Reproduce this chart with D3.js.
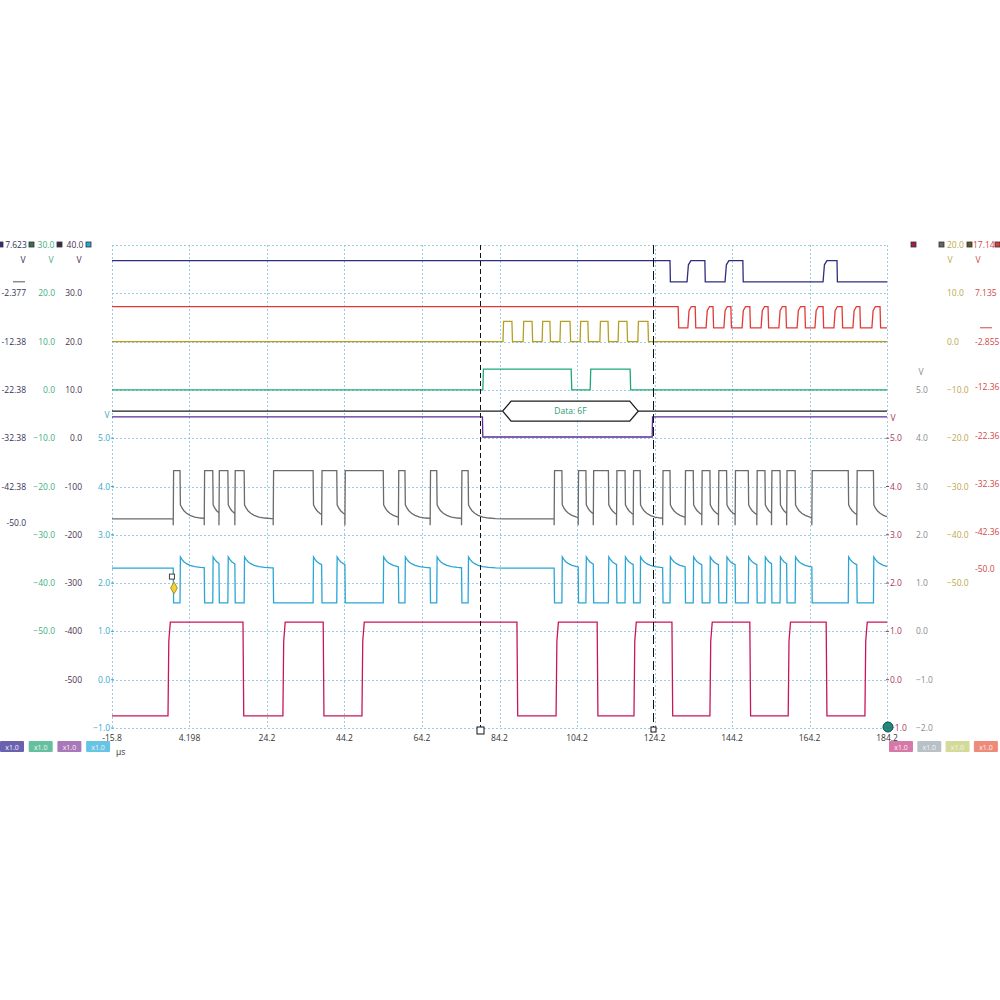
<!DOCTYPE html>
<html>
<head>
<meta charset="UTF-8">
<style>
body {
	margin: 0 ;
	background-color: #ffffff ;
	font-family: "Open Sans", Arial, sans-serif ;
}
.lbl { font-size: 8.5px ; }
</style>
<title>Scope</title>
<script src="https://cdn.jsdelivr.net/npm/d3@7"></script>
</head>
<body>
<svg id="scope" width="1000" height="1000"></svg>
<script type="text/javascript" charset="utf-8">

// ---- time axis (µs)
const timeTicks = [-15.8, 4.198, 24.2, 44.2, 64.2, 84.2, 104.2, 124.2, 144.2, 164.2, 184.2];
const timeLabels = ["-15.8", "4.198", "24.2", "44.2", "64.2", "84.2", "104.2", "124.2", "144.2", "164.2", "184.2"];
const divisions = [0, 1, 2, 3, 4, 5, 6, 7, 8, 9, 10];

// ---- channel scales: value at top of screen
const navyTop = 7.623, redTop = 17.14, yellowTop = 20.0, greenTop = 30.0, purpleTop = 40.0;   // 10 V/div
const grayTop = 8.0, cyanTop = 9.0, magentaTop = 9.0;                                          // 1 V/div

// ---- digital traces (edge times in µs, each edge toggles the level)
const navyEdges = [128.2, 132.6, 137.2, 142.4, 147.0, 167.7, 171.3];          // starts high
const navyLevels = [0.0, 4.4];
const redEdges = [130.3, 132.8, 134.7, 137.5, 139.3, 142.1, 143.9, 146.8, 148.8, 151.7,
	153.5, 156.3, 158.1, 161.0, 163.0, 165.6, 167.7, 170.5, 172.6, 175.4, 177.2, 180.3, 182.4]; // starts high
const redLevels = [0.0, 4.4];
const yellowEdges = [85.1, 87.4, 90.3, 92.6, 95.2, 97.2, 99.8, 102.4, 105.0, 107.0,
	110.1, 112.2, 114.8, 117.1, 119.9, 122.5];                                  // starts low
const yellowLevels = [0.0, 4.2];
const greenEdges = [79.9, 102.7, 107.6, 117.9];                               // starts low
const greenLevels = [0.0, 4.3];
const purpleEdges = [79.8, 123.6];                                            // starts high
const purpleLevels = [0.25, 4.4];
const magentaEdges = [-1.35, 18.0, 28.3, 38.7, 48.7, 88.7, 98.8, 109.4, 118.9, 128.7,
	138.5, 148.8, 158.7, 168.5, 178.5];                                         // starts low
const magentaLevels = [-0.75, 1.19];

// ---- CAN bus dominant bits (start, end) in µs
const canDominant = [[0.0, 1.75], [8.0, 10.2], [11.8, 14.1], [15.9, 18.3], [25.8, 36.1], [38.3, 42.2],
	[44.3, 54.2], [58.1, 59.8], [66.3, 68.0], [74.4, 76.1], [98.3, 100.3], [104.5, 106.5],
	[108.4, 112.3], [114.4, 116.6], [118.7, 120.5], [126.3, 128.2], [132.1, 134.2], [136.4, 138.5],
	[140.7, 142.8], [145.0, 148.4], [150.6, 152.7], [154.4, 156.6], [158.3, 160.5], [164.8, 174.2],
	[176.4, 180.7]];
const grayLevels = { rec: 2.33, dom: 3.33, over: 2.62, spike: 2.2 };
const cyanLevels = { rec: 2.31, dom: 1.59, over: 2.54, spike: null };
// relaxation after a dominant bit (µs, fraction of overshoot left)
const decayTimes = [0, 0.4, 0.9, 1.6, 2.5, 3.7, 5.2, 7.0, 9.0];
const decayFrac = [1, 0.78, 0.58, 0.4, 0.25, 0.13, 0.06, 0.02, 0];

// ---- decoded bus and cursors
const busFrames = [{ start: 85.0, end: 120.0, text: "Data: 6F" }];
const cursorTimes = [79.2, 123.8];

// ---- axis label columns
const col1Ticks = [-2.377, -12.38, -22.38, -32.38, -42.38, -50.0];
const col1Text = ["-2.377", "-12.38", "-22.38", "-32.38", "-42.38", "-50.0"];
const col2Ticks = [20, 10, 0, -10, -20, -30, -40, -50];
const col3Ticks = [30, 20, 10, 0, -10, -20, -30, -40, -50];
const col3Text = ["30.0", "20.0", "10.0", "0.0", "-100", "-200", "-300", "-400", "-500"];
const col4Ticks = [5, 4, 3, 2, 1, 0, -1];
const r1Ticks = [5, 4, 3, 2, 1, 0, -1];
const r2Ticks = [5, 4, 3, 2, 1, 0, -1, -2];
const r3Ticks = [10, 0, -10, -20, -30, -40, -50];
const r4Ticks = [7.135, -2.855, -12.36, -22.36, -32.36, -42.36, -50.0];
const r4Text = ["7.135", "-2.855", "-12.36", "-22.36", "-32.36", "-42.36", "-50.0"];
const leftBadges = ["#6a62b0", "#66c0a0", "#a878b8", "#66c4e4"];
const rightBadges = ["#d878a8", "#b8c0c8", "#d4da98", "#f08a78"];

// ---------------------------------------------------------------
const plotL = 112, plotR = 887, plotT = 245, plotB = 728;
const svg = d3.select("#scope");

const x = d3.scaleLinear().domain([timeTicks[0], timeTicks[timeTicks.length - 1]]).range([plotL, plotR]);
const div = d3.scaleLinear().domain([0, 10]).range([plotB, plotT]);
function onePerDiv( topVal ) {
	return d3.scaleLinear().domain([topVal - 10, topVal]).range([plotB, plotT]);
}
function tenPerDiv( topVal ) {
	return d3.scaleLinear().domain([topVal - 100, topVal]).range([plotB, plotT]);
}
const yGray = onePerDiv( grayTop ), yCyan = onePerDiv( cyanTop ), yMag = onePerDiv( magentaTop );
const yNavy10 = tenPerDiv( navyTop ), yRed10 = tenPerDiv( redTop ), yYellow10 = tenPerDiv( yellowTop ),
	yGreen10 = tenPerDiv( greenTop ), yPurple10 = tenPerDiv( purpleTop );

// ---- grid
const grid = svg.append("g").attr("stroke", "#9ccbe3").attr("stroke-dasharray", "2,2").attr("stroke-width", 1);
grid.selectAll("line.h").data(divisions).enter().append("line")
	.attr("x1", plotL).attr("x2", plotR)
	.attr("y1", d => Math.round(div(d)) + 0.5).attr("y2", d => Math.round(div(d)) + 0.5);
grid.selectAll("line.v").data(timeTicks).enter().append("line")
	.attr("y1", plotT).attr("y2", plotB)
	.attr("x1", d => Math.round(x(d)) + 0.5).attr("x2", d => Math.round(x(d)) + 0.5);

// x axis labels
svg.append("g").selectAll("text").data(timeTicks).enter().append("text")
	.attr("class", "lbl").attr("fill", "#333")
	.attr("x", d => x(d)).attr("y", plotB + 13).attr("text-anchor", "middle")
	.text((d, i) => timeLabels[i]);
svg.append("text").attr("class", "lbl").attr("fill", "#333").attr("x", 116).attr("y", 755).text("µs");

// ---- traces
svg.append("clipPath").attr("id", "plot").append("rect")
	.attr("x", plotL).attr("y", plotT - 20).attr("width", plotR - plotL + 1).attr("height", plotB - plotT + 22);
const traces = svg.append("g").attr("clip-path", "url(#plot)").attr("fill", "none").attr("stroke-width", 1.3);

function digitalPoints( startHigh, edges, levels, rise, fall ) {
	const pts = [] ;
	let high = startHigh ;
	pts.push([ x.domain()[0], high ? levels[1] : levels[0] ]) ;
	edges.forEach( t => {
		const from = high ? levels[1] : levels[0] ;
		high = !high ;
		const to = high ? levels[1] : levels[0] ;
		const dt = high ? rise : fall ;
		pts.push([ t, from ]) ;
		if( high && rise > 0.3 ) pts.push([ t + dt * 0.35, from + (to - from) * 0.8 ]) ;
		pts.push([ t + dt, to ]) ;
	}) ;
	pts.push([ x.domain()[1], high ? levels[1] : levels[0] ]) ;
	return pts ;
}

const decay = d3.scaleLinear().domain(decayTimes).range(decayFrac).clamp(true);
function canPoints( lv ) {
	const pts = [[ x.domain()[0], lv.rec ]] ;
	let lastFall = null ;
	const relax = (from, until) => {
		decayTimes.forEach( dt => { if( from + dt < until ) pts.push([ from + dt, lv.rec + (lv.over - lv.rec) * decay(dt) ]) }) ;
		pts.push([ until, lv.rec + (lv.over - lv.rec) * decay(until - from) ]) ;
	} ;
	canDominant.forEach( ([a, b]) => {
		if( lastFall === null ) pts.push([ a, lv.rec ]) ;
		else relax( lastFall, a ) ;
		if( lv.spike !== null ) pts.push([ a, lv.spike ]) ;
		pts.push([ a + 0.1, lv.dom ], [ b, lv.dom ], [ b + 0.1, lv.over ]) ;
		lastFall = b + 0.1 ;
	}) ;
	relax( lastFall, x.domain()[1] ) ;
	return pts ;
}

function draw( pts, yScale, color ) {
	traces.append("path")
		.attr("d", d3.line().x(d => x(d[0])).y(d => yScale(d[1]))(pts))
		.attr("stroke", color) ;
}

draw( digitalPoints( true, navyEdges, navyLevels, 1.0, 0.1 ), yNavy10, "#2e2e7e" );
draw( digitalPoints( true, redEdges, redLevels, 0.9, 0.15 ), yRed10, "#e03a36" );
draw( digitalPoints( false, yellowEdges, yellowLevels, 0.15, 0.15 ), yYellow10, "#b4a024" );
draw( digitalPoints( false, greenEdges, greenLevels, 0.15, 0.15 ), yGreen10, "#1fa77a" );

// decoded bus row
const busY = div(6.56), busH = 10;
const bus = traces.append("g").attr("stroke", "#1c1c1c");
let busPos = x.domain()[0];
busFrames.forEach( f => {
	bus.append("line").attr("x1", x(busPos)).attr("x2", x(f.start)).attr("y1", busY).attr("y2", busY);
	const slant = 2.2;
	bus.append("path").attr("fill", "#ffffff").attr("d", d3.line()([
		[x(f.start), busY], [x(f.start + slant), busY - busH], [x(f.end - slant), busY - busH],
		[x(f.end), busY], [x(f.end - slant), busY + busH], [x(f.start + slant), busY + busH], [x(f.start), busY]
	]));
	svg.append("text").attr("class", "lbl").attr("fill", "#2c9c72").attr("text-anchor", "middle")
		.attr("x", x((f.start + f.end) / 2)).attr("y", busY + 3).text(f.text);
	busPos = f.end;
});
bus.append("line").attr("x1", x(busPos)).attr("x2", plotR).attr("y1", busY).attr("y2", busY);

draw( digitalPoints( true, purpleEdges, purpleLevels, 0.1, 0.1 ), yPurple10, "#5a2c98" );
draw( canPoints( grayLevels ), yGray, "#6b6b6b" );
draw( canPoints( cyanLevels ), yCyan, "#2aa6d6" );
draw( digitalPoints( false, magentaEdges, magentaLevels, 0.6, 0.2 ), yMag, "#c8155c" );

// ---- cursors
const cur = svg.append("g");
cursorTimes.forEach( (t, i) => {
	cur.append("line").attr("x1", Math.round(x(t)) + 0.5).attr("x2", Math.round(x(t)) + 0.5)
		.attr("y1", plotT).attr("y2", plotB)
		.attr("stroke", "#111").attr("stroke-width", 1)
		.attr("stroke-dasharray", i === 0 ? "5,3" : "9,4");
	const s = i === 0 ? 7 : 5;
	cur.append("rect").attr("x", Math.round(x(t)) - s / 2 + 0.5).attr("y", plotB - 1)
		.attr("width", s).attr("height", s).attr("fill", "#fff").attr("stroke", "#111");
});

// trigger markers
svg.append("rect").attr("x", x(-0.2) - 3).attr("y", yCyan(2.0) - 9).attr("width", 5).attr("height", 5)
	.attr("fill", "#fff").attr("stroke", "#444");
svg.append("path").attr("d", d3.symbol(d3.symbolDiamond, 40)())
	.attr("transform", `translate(${x(0.2)},${yCyan(1.9)})`).attr("fill", "#f0d23c").attr("stroke", "#b09020");
svg.append("circle").attr("cx", plotR + 1).attr("cy", plotB - 1).attr("r", 5)
	.attr("fill", "#178c80").attr("stroke", "#0c4f48");

// ---- label columns
function column( ticks, texts, scale, xPos, anchor, color ) {
	svg.append("g").selectAll("text").data(ticks).enter().append("text")
		.attr("class", "lbl").attr("fill", color).attr("text-anchor", anchor)
		.attr("x", xPos).attr("y", d => scale(d) + 3)
		.text((d, i) => texts ? texts[i] : d3.format(".1f")(d));
}
function tag( xPos, yPos, txt, color, anchor ) {
	svg.append("text").attr("class", "lbl").attr("fill", color).attr("text-anchor", anchor || "middle")
		.attr("x", xPos).attr("y", yPos).text(txt);
}
function square( xPos, color, fill ) {
	svg.append("rect").attr("x", xPos).attr("y", plotT - 3).attr("width", 5).attr("height", 5)
		.attr("fill", fill || color).attr("stroke", "#333").attr("stroke-width", 0.8);
}

// left side
column( col1Ticks, col1Text, yNavy10, 26, "end", "#33335e" );
column( col2Ticks, null, yGreen10, 55, "end", "#3fae80" );
column( col3Ticks, col3Text, yPurple10, 82, "end", "#4a3050" );
column( col4Ticks, null, yCyan, 110, "end", "#3aa8cc" );
tag( 16, plotT + 3, "7.623", "#33335e" ); tag( 46, plotT + 3, "30.0", "#3fae80" ); tag( 75, plotT + 3, "40.0", "#4a3050" );
square( -2, "#2e2e7e" ); square( 29, "#1fa77a", "#3a7050" ); square( 57, "#3a2a50" ); square( 86, "#2aa6d6" );
tag( 23, 263, "V", "#33335e" ); tag( 51, 263, "V", "#3fae80" ); tag( 79, 263, "V", "#4a3050" );
tag( 107, 418, "V", "#3aa8cc" );
svg.append("line").attr("x1", 13).attr("x2", 25).attr("y1", yNavy10(0)).attr("y2", yNavy10(0)).attr("stroke", "#555");
svg.append("g").selectAll("line").data(col4Ticks).enter().append("line")
	.attr("x1", 111).attr("x2", 114).attr("y1", d => yCyan(d)).attr("y2", d => yCyan(d)).attr("stroke", "#3aa8cc");

// right side
column( r1Ticks, null, yMag, 890, "start", "#a83858" );
column( r2Ticks, null, yGray, 916, "start", "#8c8c8c" );
column( r3Ticks, null, yYellow10, 947, "start", "#bda84a" );
column( r4Ticks, r4Text, yRed10, 975, "start", "#d04848" );
square( 911, "#a0204a" ); square( 939, "#888", "#666" ); square( 967, "#b4a024", "#605820" ); square( 995, "#e03a36" );
tag( 947, plotT + 3, "20.0", "#bda84a", "start" ); tag( 973, plotT + 3, "17.14", "#d04848", "start" );
tag( 950, 263, "V", "#bda84a" ); tag( 978, 263, "V", "#d04848" );
tag( 921, 375, "V", "#8c8c8c" ); tag( 893, 421, "V", "#a83858" );
svg.append("line").attr("x1", 980).attr("x2", 992).attr("y1", yRed10(0)).attr("y2", yRed10(0)).attr("stroke", "#d04848");
svg.append("g").selectAll("line").data(r1Ticks).enter().append("line")
	.attr("x1", 886).attr("x2", 889).attr("y1", d => yMag(d)).attr("y2", d => yMag(d)).attr("stroke", "#a83858");

// ---- scale badges
function badges( colors, x0, step ) {
	const g = svg.append("g").selectAll("g").data(colors).enter().append("g")
		.attr("transform", (d, i) => `translate(${x0 + i * step},741)`);
	g.append("rect").attr("width", 24).attr("height", 11).attr("rx", 1).attr("fill", d => d);
	g.append("text").attr("x", 12).attr("y", 8.5).attr("text-anchor", "middle")
		.attr("font-size", "7px").attr("fill", "#f4f4f4").text("x1.0");
}
badges( leftBadges, 0, 28.7 );
badges( rightBadges, 889, 28.3 );
</script>
</body>
</html>
